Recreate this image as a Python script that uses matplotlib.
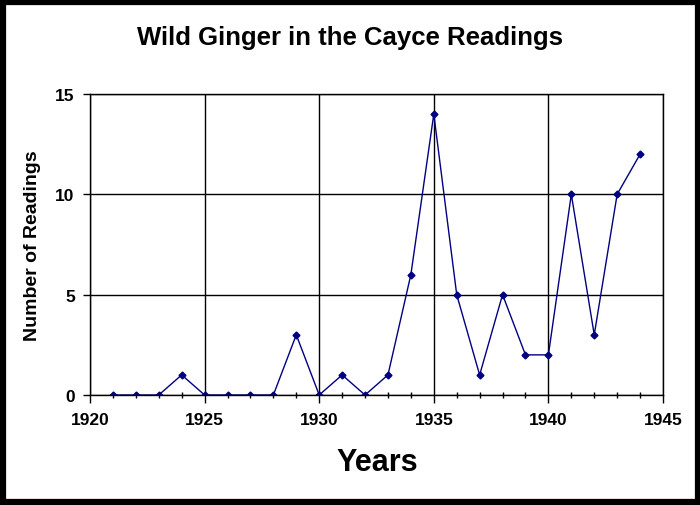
import matplotlib.pyplot as plt
from matplotlib.patches import Rectangle
from matplotlib.ticker import MultipleLocator

years = [1921, 1922, 1923, 1924, 1925, 1926, 1927, 1928, 1929, 1930, 1931, 1932,
         1933, 1934, 1935, 1936, 1937, 1938, 1939, 1940, 1941, 1942, 1943, 1944]
readings = [0, 0, 0, 1, 0, 0, 0, 0, 3, 0, 1, 0,
            1, 6, 14, 5, 1, 5, 2, 2, 10, 3, 10, 12]

plt.rcParams['font.family'] = ['Liberation Sans', 'DejaVu Sans']

fig = plt.figure(figsize=(7.0, 5.06), dpi=100)
W, H = 700, 506
ax = fig.add_axes([90 / W, 1 - 396 / H, (663 - 90) / W, (396 - 95) / H])

ax.plot(years, readings, color='#000080', linewidth=1, marker='D', markersize=3.5)

ax.set_xlim(1920, 1945)
ax.set_ylim(0, 15)
ax.xaxis.set_major_locator(MultipleLocator(5))
ax.xaxis.set_minor_locator(MultipleLocator(1))
ax.yaxis.set_major_locator(MultipleLocator(5))
ax.grid(True, which='major', color='black', linewidth=1)
ax.tick_params(axis='x', which='major', direction='out', length=6, width=1, pad=6)
ax.tick_params(axis='x', which='minor', direction='inout', length=5, width=1)
ax.tick_params(axis='y', which='major', direction='out', length=5, width=1, pad=6)
for lbl in ax.get_xticklabels() + ax.get_yticklabels():
    lbl.set_fontweight('bold')
    lbl.set_fontsize(12.5)
for s in ax.spines.values():
    s.set_linewidth(1)

fig.text(350 / W, 1 - 38 / H, 'Wild Ginger in the Cayce Readings', ha='center', va='center',
         fontsize=18.5, fontweight='bold')
fig.text(377 / W, 1 - 463 / H, 'Years', ha='center', va='center', fontsize=22, fontweight='bold')
fig.text(33 / W, 1 - 246 / H, 'Number of Readings', ha='center', va='center', rotation=90,
         fontsize=14, fontweight='bold')

fig.patches.append(Rectangle((2.5 / W, 3 / H), (W - 5) / W, (H - 5.5) / H, transform=fig.transFigure,
                             fill=False, edgecolor='black', linewidth=4.5))

fig.savefig('out.png', dpi=100)
